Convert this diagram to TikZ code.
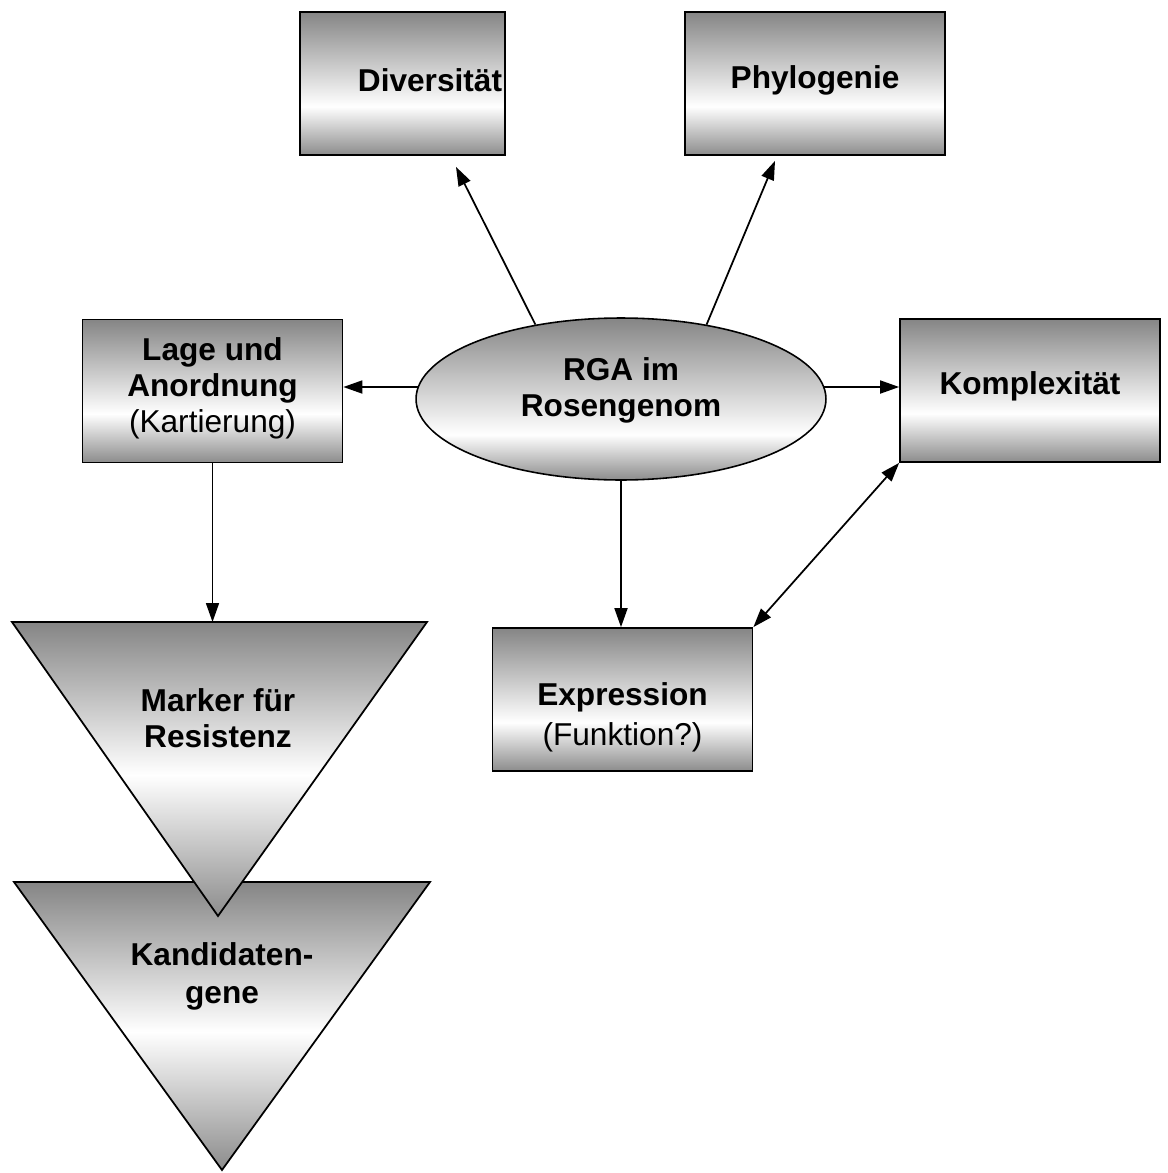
\documentclass[tikz,border=0pt]{standalone}
\usepackage{fontspec}
\setmainfont{Liberation Sans}
\usetikzlibrary{arrows.meta,shapes.geometric}
\definecolor{shtop}{HTML}{858585}
\definecolor{shbot}{HTML}{8C8C8C}
\pgfdeclareverticalshading{boxshade}{100bp}{color(0bp)=(shbot); color(25bp)=(shbot); color(42bp)=(white); color(75bp)=(shtop); color(100bp)=(shtop)}
\pgfdeclareverticalshading{ellshade}{100bp}{color(0bp)=(shbot); color(25bp)=(shbot); color(39bp)=(white); color(75bp)=(shtop); color(100bp)=(shtop)}
\pgfdeclareverticalshading{trishade}{100bp}{color(0bp)=(shbot); color(25bp)=(shbot); color(49bp)=(white); color(75bp)=(shtop); color(100bp)=(shtop)}
\begin{document}
\begin{tikzpicture}[x=0.02cm,y=-0.02cm,
  lbl/.style={font=\fontsize{18}{20.5}\selectfont, align=center, text=black},
  boxnode/.style={draw, line width=1pt, shading=boxshade, minimum width=5.2cm, minimum height=2.86cm, inner sep=0pt, lbl},
  trishape/.style={draw, line width=1pt, shading=trishade, line join=miter},
  arr/.style={-{Triangle[length=0.38cm,width=0.26cm]}, line width=1pt},
  arrboth/.style={{Triangle[length=0.38cm,width=0.26cm]}-{Triangle[length=0.38cm,width=0.26cm]}, line width=1pt}]
\useasboundingbox (0,0) rectangle (1167,1173);

% boxes
\node[boxnode, minimum width=4.1cm] (div) at (402.5,83.5) {};
\node[lbl] (divt) at (430,80) {\textbf{Diversität}};
\node[boxnode] (phy) at (815,83.5) {};
\node[lbl] (phyt) at (815,80) {\textbf{Phylogenie}};
\node[boxnode] (lage) at (212.5,391) {};
\node[lbl] (laget) at (212.5,388) {\textbf{Lage und}\\\textbf{Anordnung}\\(Kartierung)};
\node[boxnode] (komp) at (1030,390.5) {};
\node[lbl] (kompt) at (1030,386) {\textbf{Komplexität}};
\node[boxnode] (expr) at (622.5,699.5) {};
\node[lbl] (exprt) at (622.5,717) {\textbf{Expression}\\[0.08cm](Funktion?)};

% ellipse
\node[draw, ellipse, line width=0.9pt, shading=ellshade, minimum width=8.2cm, minimum height=3.24cm, inner sep=0pt] (ell) at (621,399) {};
\node[lbl] (ellt) at (621,390) {\textbf{RGA im}\\\textbf{Rosengenom}};

% triangles
\coordinate (t2a) at (14,882);
\coordinate (t2b) at (430,882);
\coordinate (t2c) at (222,1170);
\draw[trishape] (t2a) -- (t2b) -- (t2c) -- cycle;
\node[lbl] (t2t) at (222,976) {\textbf{Kandidaten-}\\[0.04cm]\textbf{gene}};
\coordinate (t1a) at (12,622);
\coordinate (t1b) at (427,622);
\coordinate (t1c) at (218,916);
\draw[trishape] (t1a) -- (t1b) -- (t1c) -- cycle;
\node[lbl] (t1t) at (218,718) {\textbf{Marker für}\\\textbf{Resistenz}};

% connectors
\draw[arr] (ell.139) -- ([xshift=1.07cm,yshift=-0.22cm]div.south);
\draw[arr] (ell.41) -- ([xshift=-0.8cm,yshift=-0.1cm]phy.south);
\draw[arr] ([xshift=0.06cm,yshift=0.24cm]ell.west) -- ([yshift=0.08cm]lage.east);
\draw[arr] ([xshift=-0.06cm,yshift=0.24cm]ell.east) -- ([yshift=0.07cm]komp.west);
\draw[arr] (ell.south) -- (ell.south |- expr.north);
\draw[arr] (lage.south) -- (lage.south |- t1a);
\draw[arrboth] (expr.north east) -- (komp.south west);
\end{tikzpicture}
\end{document}
